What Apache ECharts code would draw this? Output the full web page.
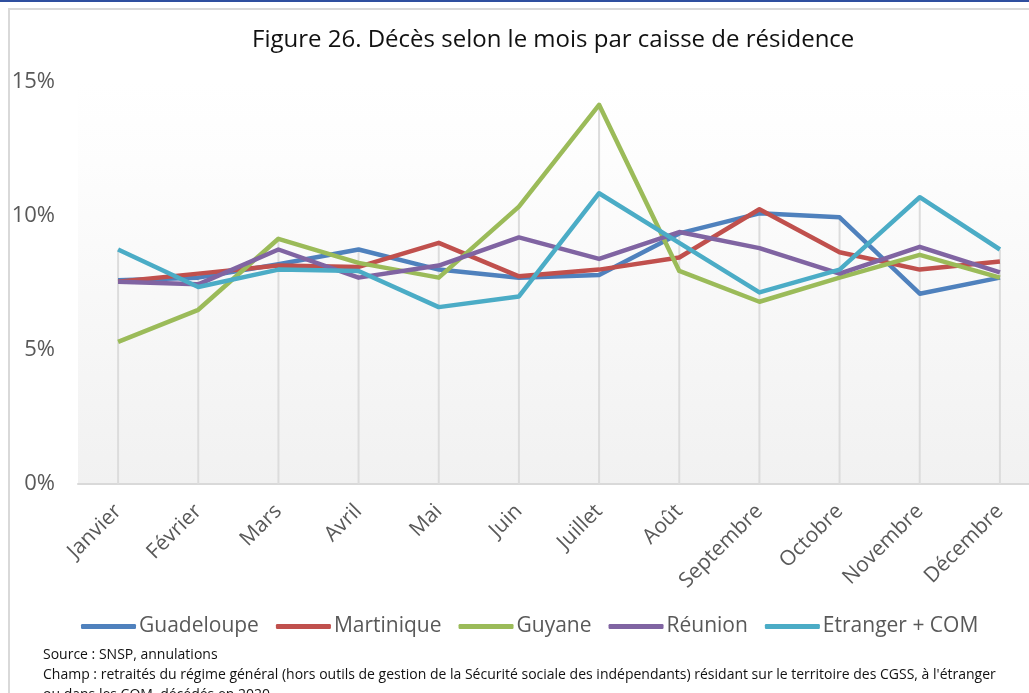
<!DOCTYPE html>
<html>
<head>
<meta charset="utf-8">
<script src="https://cdn.jsdelivr.net/npm/echarts@6/dist/echarts.min.js"></script>
<style>
  html, body { margin: 0; padding: 0; background: #fff; }
  #topline { position: absolute; left: 0; top: 0; width: 1029px; height: 2px; background: #2f4f9f; }
  #frame { position: absolute; left: 8px; top: 8px; width: 1040px; height: 700px;
    border-left: 2px solid #d9d9d9; border-top: 2px solid #d9d9d9; }
  #main { position: absolute; left: 0; top: 0; width: 1029px; height: 693px; }
</style>
</head>
<body>
<div id="topline"></div>
<div id="frame"></div>
<div id="main"></div>
<script>
const months = ['Janvier', 'Février', 'Mars', 'Avril', 'Mai', 'Juin', 'Juillet',
  'Août', 'Septembre', 'Octobre', 'Novembre', 'Décembre'];

// part des décès du mois, en %
const guadeloupe = [7.6, 7.7, 8.2, 8.75, 8.0, 7.7, 7.8, 9.35, 10.1, 9.95, 7.1, 7.7];
const martinique = [7.55, 7.85, 8.15, 8.1, 9.0, 7.75, 8.0, 8.45, 10.25, 8.65, 8.0, 8.3];
const guyane = [5.3, 6.5, 9.15, 8.25, 7.7, 10.35, 14.15, 7.95, 6.8, 7.7, 8.55, 7.7];
const reunion = [7.55, 7.45, 8.75, 7.7, 8.15, 9.2, 8.4, 9.4, 8.8, 7.85, 8.85, 7.9];
const etranger = [8.75, 7.35, 8.0, 7.95, 6.6, 7.0, 10.85, 9.0, 7.15, 8.0, 10.7, 8.75];

const yTicks = [0, 5, 10, 15];
const titleText = 'Figure 26. Décès selon le mois par caisse de résidence';
const noteText = 'Source : SNSP, annulations\n' +
  "Champ : retraités du régime général (hors outils de gestion de la Sécurité sociale des indépendants) résidant sur le territoire des CGSS, à l'étranger\n" +
  'ou dans les COM, décédés en 2020.';

const FONT = '"Open Sans", "Noto Sans", sans-serif';
const seriesList = [
  { name: 'Guadeloupe', data: guadeloupe, color: '#4f81bd' },
  { name: 'Martinique', data: martinique, color: '#c0504d' },
  { name: 'Guyane', data: guyane, color: '#9bbb59' },
  { name: 'Réunion', data: reunion, color: '#8064a2' },
  { name: 'Etranger + COM', data: etranger, color: '#4bacc6' },
];

// lignes de projection : du point le plus haut jusqu'à l'axe
const dropLines = months.map((_, i) => Math.max(...seriesList.map(s => s.data[i])));

const chart = echarts.init(document.getElementById('main'), null, { renderer: 'canvas' });

const option = {
  animation: false,
  backgroundColor: 'transparent',
  title: [
    {
      text: titleText, left: 247, top: 23,
      textStyle: { fontFamily: FONT, fontSize: 24, fontWeight: 'normal', color: '#111' }
    },
    {
      text: noteText, left: 38, top: 640,
      textStyle: { fontFamily: FONT, fontSize: 14, fontWeight: 'normal', color: '#111', lineHeight: 20 }
    }
  ],
  legend: {
    left: 76, top: 611,
    itemWidth: 55, itemHeight: 5, itemGap: 17,
    icon: 'roundRect',
    data: seriesList.map(s => s.name),
    textStyle: { fontFamily: FONT, fontSize: 21, color: '#595959', padding: [0, 0, 0, -2] }
  },
  grid: {
    left: 78, top: 82, width: 962, height: 402,
    outerBoundsMode: 'none', containLabel: false,
    show: true, borderWidth: 0,
    backgroundColor: new echarts.graphic.LinearGradient(0, 0, 0, 1, [
      { offset: 0, color: '#ffffff' },
      { offset: 0.2, color: '#fdfdfd' },
      { offset: 1, color: '#f1f1f1' }
    ])
  },
  xAxis: {
    type: 'category', data: months, boundaryGap: true,
    axisLine: { lineStyle: { color: '#d9d9d9', width: 2 } },
    axisTick: { show: false },
    axisLabel: { rotate: 45, margin: 24, fontFamily: FONT, fontSize: 21, color: '#595959' },
    splitLine: { show: false }
  },
  yAxis: {
    type: 'value', min: yTicks[0], max: yTicks[yTicks.length - 1], interval: 5,
    axisLine: { show: false }, axisTick: { show: false },
    splitLine: { show: false },
    axisLabel: { margin: 23, fontFamily: FONT, fontSize: 22, color: '#595959', formatter: '{value}%' }
  },
  series: [
    {
      type: 'bar', data: dropLines, barWidth: 2, silent: true, z: 1,
      itemStyle: { color: '#dcdcdc' }, legendHoverLink: false
    },
    ...seriesList.map(s => ({
      name: s.name, type: 'line', data: s.data, z: 3,
      symbol: 'none', color: s.color,
      lineStyle: { width: 4.5, color: s.color, join: 'round' }
    }))
  ]
};

chart.setOption(option);
</script>
</body>
</html>
